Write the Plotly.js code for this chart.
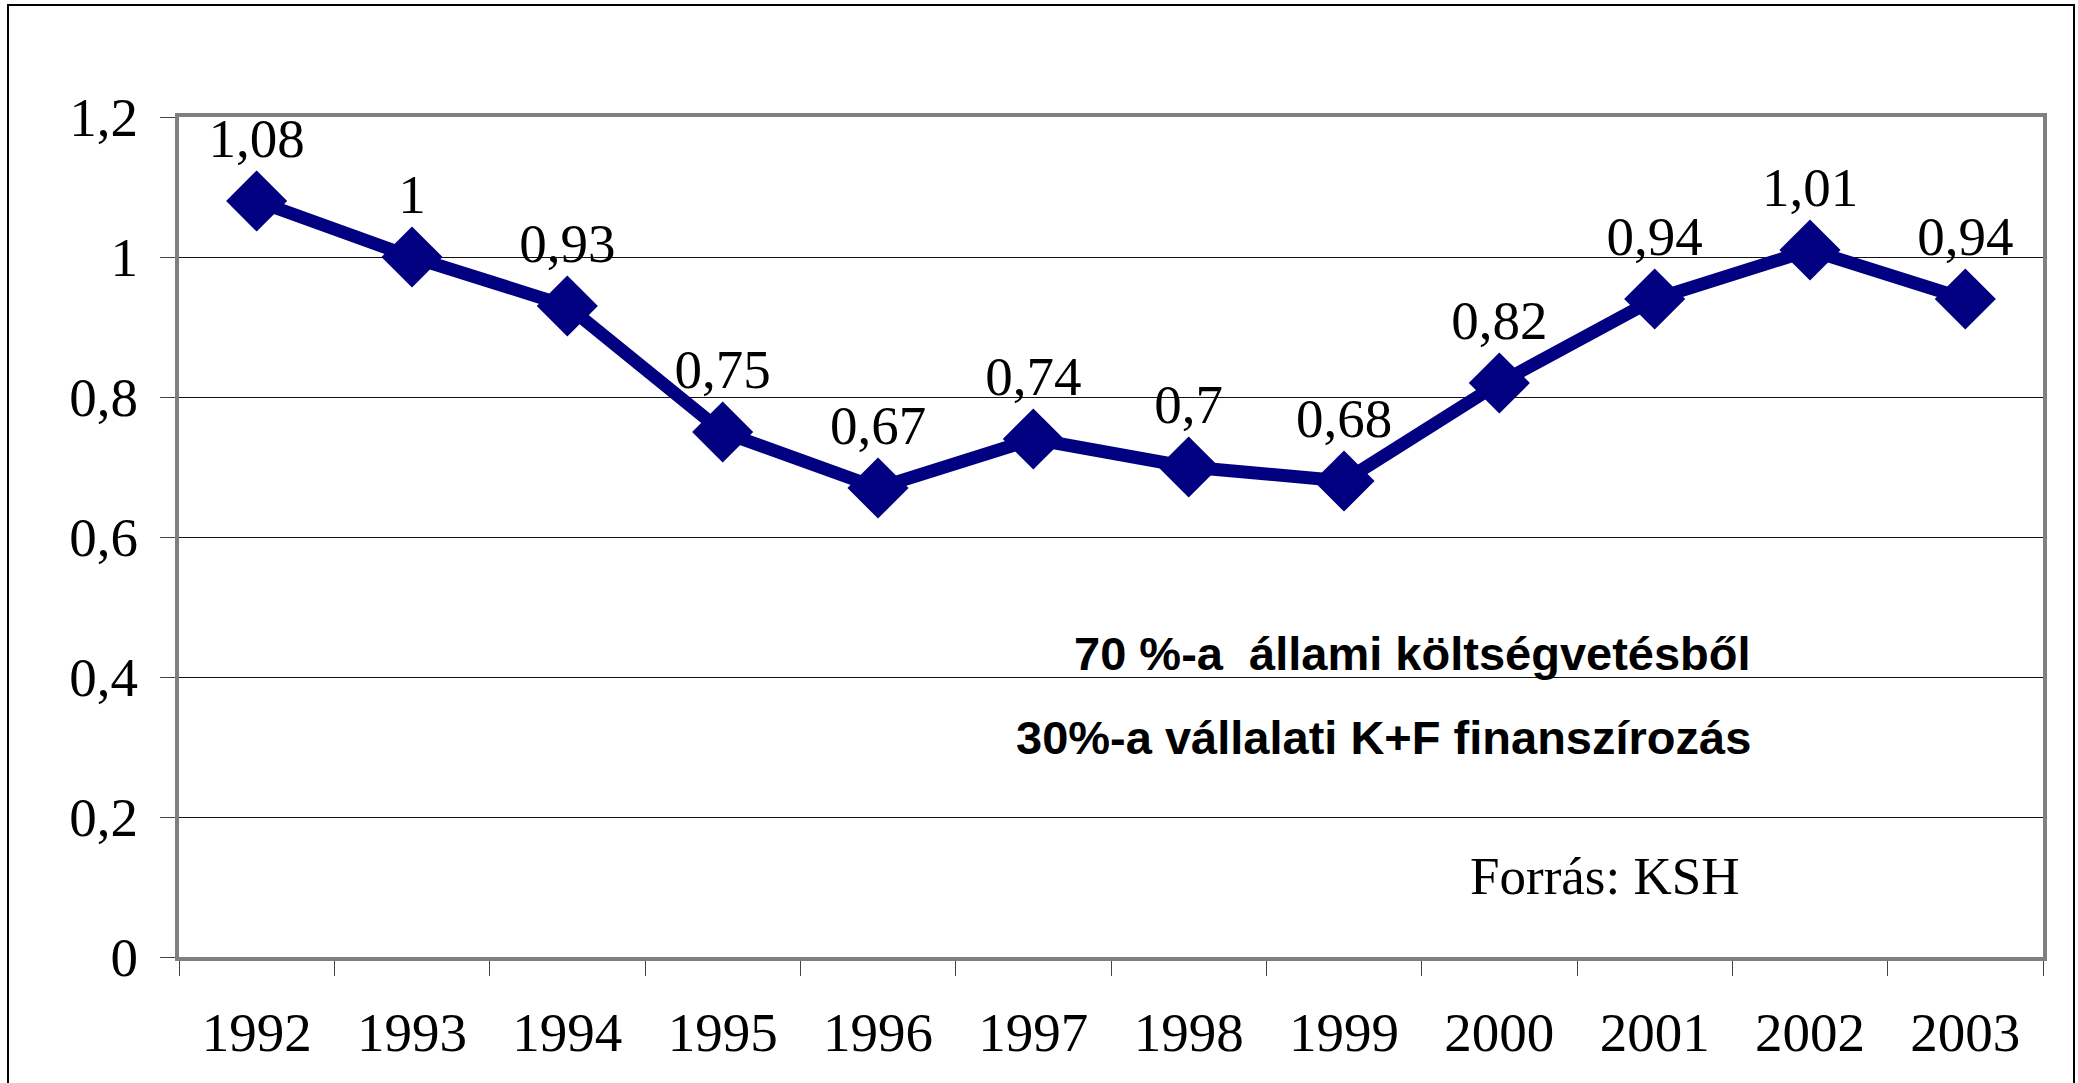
<!DOCTYPE html>
<html>
<head>
<meta charset="utf-8">
<script src="https://cdn.plot.ly/plotly-3.0.1.min.js"></script>
<style>
  html, body { margin: 0; padding: 0; background: #ffffff; }
  #chart { width: 2078px; height: 1083px; }
</style>
</head>
<body>
<div id="chart"></div>
<script>
// ---- data ----
var years = ['1992','1993','1994','1995','1996','1997','1998','1999','2000','2001','2002','2003'];
var values = [1.08, 1, 0.93, 0.75, 0.67, 0.74, 0.7, 0.68, 0.82, 0.94, 1.01, 0.94];
var valueLabels = values.map(function (v) { return String(v).replace('.', ','); });
var noteLine1 = '70 %-a  állami költségvetésből';
var noteLine2 = '30%-a vállalati K+F finanszírozás';
var sourceNote = 'Forrás: KSH';

// ---- layout geometry ----
var W = 2078, H = 1083;
var mL = 179, mR = 35, mT = 117, mB = 126;
var pw = W - mL - mR, ph = H - mT - mB;
function px2x(px) { return (px - mL) / pw; }
function py2y(py) { return (H - mB - py) / ph; }

var serif = 'Liberation Serif, Times New Roman, serif';
var sans = 'Liberation Sans, Arial, sans-serif';

var trace = {
  type: 'scatter',
  mode: 'lines+markers+text',
  x: years,
  y: values,
  text: valueLabels,
  textposition: 'top center',
  textfont: { family: serif, size: 55, color: '#000000' },
  line: { color: '#000080', width: 13 },
  marker: { symbol: 'diamond', size: 47, color: '#000080', line: { width: 0 } },
  cliponaxis: false,
  hoverinfo: 'skip'
};

var layout = {
  width: W, height: H,
  margin: { l: mL, r: mR, t: mT, b: mB, pad: 0 },
  paper_bgcolor: '#ffffff',
  plot_bgcolor: '#ffffff',
  showlegend: false,
  separators: ', ',
  font: { family: serif, color: '#000000' },
  xaxis: {
    type: 'category',
    range: [-0.5, years.length - 0.5],
    tickson: 'boundaries',
    ticks: 'outside',
    ticklen: 15,
    tickwidth: 1,
    tickcolor: '#444444',
    showgrid: false,
    showline: true,
    linecolor: '#808080',
    linewidth: 4,
    mirror: true,
    zeroline: false,
    tickfont: { family: serif, size: 55, color: '#000000' },
    ticklabelstandoff: 24,
    fixedrange: true
  },
  yaxis: {
    range: [0, 1.2],
    dtick: 0.2,
    tick0: 0,
    ticks: 'outside',
    ticklen: 15,
    tickwidth: 1,
    tickcolor: '#444444',
    showgrid: true,
    gridcolor: '#111111',
    gridwidth: 1,
    showline: true,
    linecolor: '#808080',
    linewidth: 4,
    mirror: true,
    zeroline: false,
    tickfont: { family: serif, size: 55, color: '#000000' },
    ticklabelstandoff: 11,
    fixedrange: true
  },
  shapes: [
    {
      type: 'rect', xref: 'paper', yref: 'paper', layer: 'below',
      x0: px2x(8), x1: px2x(2074), y0: py2y(1100), y1: py2y(5),
      line: { color: '#000000', width: 2 }, fillcolor: 'rgba(0,0,0,0)'
    }
  ],
  annotations: [
    {
      xref: 'paper', yref: 'paper', x: px2x(1753), y: py2y(653),
      xanchor: 'right', yanchor: 'middle', showarrow: false,
      text: '<b>' + noteLine1 + '</b>',
      font: { family: sans, size: 47, color: '#000000' }
    },
    {
      xref: 'paper', yref: 'paper', x: px2x(1753), y: py2y(737),
      xanchor: 'right', yanchor: 'middle', showarrow: false,
      text: '<b>' + noteLine2 + '</b>',
      font: { family: sans, size: 47, color: '#000000' }
    },
    {
      xref: 'paper', yref: 'paper', x: px2x(1604), y: py2y(876),
      xanchor: 'center', yanchor: 'middle', showarrow: false,
      text: sourceNote,
      font: { family: serif, size: 53, color: '#000000' }
    }
  ]
};

Plotly.newPlot('chart', [trace], layout, { displayModeBar: false, staticPlot: true });
</script>
</body>
</html>
